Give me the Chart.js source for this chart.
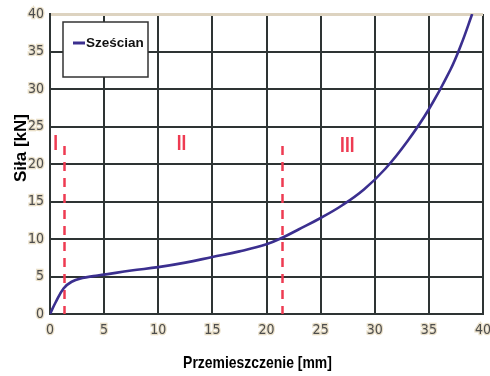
<!DOCTYPE html>
<html>
<head>
<meta charset="utf-8">
<script src="https://cdn.jsdelivr.net/npm/chart.js@4.4.1/dist/chart.umd.min.js"></script>
<style>
html,body{margin:0;padding:0;background:#fff;}
#wrap{width:490px;height:376px;position:relative;}
</style>
</head>
<body>
<div id="wrap"><canvas id="c" width="490" height="376"></canvas></div>
<script>
// ---- data ----
const displacement = [0, 0.5, 1.25, 2, 3, 4, 5, 7.5, 10, 12.5, 15, 17.5, 20, 21.5, 23, 25, 27, 29, 31, 33, 35, 37, 38, 39];
const force        = [0, 1.5, 3.4, 4.3, 4.8, 5.05, 5.25, 5.8, 6.25, 6.85, 7.6, 8.35, 9.3, 10.2, 11.3, 12.8, 14.5, 16.6, 19.4, 23.0, 27.3, 32.6, 36.0, 40.0];
const seriesName = 'Sześcian';
const xTicks = [0, 5, 10, 15, 20, 25, 30, 35, 40];
const yTicks = [0, 5, 10, 15, 20, 25, 30, 35, 40];
const zoneBoundaries = [1.3, 21.4];
const zoneBoundaryTop = 22.4;
const zoneLabels = ['I', 'II', 'III'];
const zoneLabelX = [0.3, 11.7, 26.8];
const zoneLabelY = [21.9, 21.9, 21.6];
const xTitle = 'Przemieszczenie [mm]';
const yTitle = 'Siła [kN]';

const curveColor = '#3b2f8f';
const gridColor = '#2e3434';
const red = '#ee3b52';
const narrow = '"Liberation Sans Narrow", "DejaVu Sans Condensed", "Liberation Sans", Arial, sans-serif';

const points = displacement.map((x, i) => ({x, y: force[i]}));

function condensedText(ctx, text, x, y, sx) {
  ctx.save();
  ctx.translate(x, y);
  ctx.scale(sx, 1);
  ctx.fillText(text, 0, 0);
  ctx.restore();
}

const overlay = {
  id: 'overlay',
  beforeDatasetsDraw(chart) {
    const {ctx, scales: {x, y}} = chart;
    ctx.save();
    ctx.strokeStyle = red;
    ctx.lineWidth = 2.5;
    ctx.setLineDash([9, 7]);
    zoneBoundaries.forEach(b => {
      const px = Math.round(x.getPixelForValue(b)) + 0.5;
      ctx.beginPath();
      ctx.moveTo(px, y.getPixelForValue(zoneBoundaryTop));
      ctx.lineTo(px, y.getPixelForValue(0));
      ctx.stroke();
    });
    ctx.setLineDash([]);
    ctx.fillStyle = red;
    ctx.font = 'bold 22px "Liberation Sans", Arial, sans-serif';
    ctx.textAlign = 'left';
    ctx.textBaseline = 'alphabetic';
    zoneLabels.forEach((t, i) => {
      condensedText(ctx, t, x.getPixelForValue(zoneLabelX[i]), y.getPixelForValue(zoneLabelY[i]), 0.78);
    });
    ctx.restore();
  },
  afterDatasetsDraw(chart) {
    const {ctx, chartArea: a} = chart;
    ctx.save();
    // legend box
    const bx = a.left + 13, by = a.top + 8, bw = 85, bh = 55;
    ctx.fillStyle = '#ffffff';
    ctx.fillRect(bx, by, bw, bh);
    ctx.strokeStyle = '#333';
    ctx.lineWidth = 1.5;
    ctx.strokeRect(bx, by, bw, bh);
    ctx.strokeStyle = curveColor;
    ctx.lineWidth = 3;
    ctx.beginPath();
    ctx.moveTo(bx + 10, by + 21);
    ctx.lineTo(bx + 22, by + 21);
    ctx.stroke();
    ctx.fillStyle = '#111';
    ctx.font = 'bold 13.5px "Liberation Sans", Arial, sans-serif';
    ctx.textAlign = 'left';
    ctx.textBaseline = 'middle';
    ctx.fillText(seriesName, bx + 23, by + 21);
    // axis titles
    ctx.fillStyle = '#000';
    ctx.font = 'bold 17px "Liberation Sans", Arial, sans-serif';
    ctx.textAlign = 'center';
    ctx.textBaseline = 'alphabetic';
    condensedText(ctx, xTitle, 257.5, 368, 0.82);
    ctx.translate(21, 148);
    ctx.rotate(-Math.PI / 2);
    ctx.textBaseline = 'middle';
    ctx.fillText(yTitle, 0, 0);
    ctx.restore();
  }
};

new Chart(document.getElementById('c'), {
  type: 'line',
  data: {
    datasets: [{
      label: seriesName,
      data: points,
      borderColor: curveColor,
      backgroundColor: curveColor,
      borderWidth: 2.6,
      pointRadius: 0,
      tension: 0.4,
      fill: false
    }]
  },
  options: {
    responsive: false,
    animation: false,
    layout: {padding: {top: 14, right: 7, left: 0, bottom: 0}},
    plugins: {legend: {display: false}, tooltip: {enabled: false}, title: {display: false}},
    scales: {
      x: {
        type: 'linear',
        min: 0, max: 40,
        afterFit: s => { s.height = 62; s.paddingLeft = 0; s.paddingRight = 0; },
        afterBuildTicks: s => { s.ticks = xTicks.map(v => ({value: v})); },
        grid: {color: gridColor, lineWidth: 2, drawTicks: false},
        border: {color: gridColor, width: 2},
        ticks: {
          padding: 8,
          color: '#4d4d4d',
          textStrokeColor: '#e9dfc8',
          textStrokeWidth: 2.5,
          font: {family: narrow, size: 14},
          maxRotation: 0
        }
      },
      y: {
        type: 'linear',
        min: 0, max: 40,
        afterFit: s => { s.width = 50; s.paddingTop = 0; s.paddingBottom = 0; },
        afterBuildTicks: s => { s.ticks = yTicks.map(v => ({value: v})); },
        grid: {
          color: c => (c.tick && c.tick.value === 40) ? '#ddd3c0' : gridColor,
          lineWidth: c => (c.tick && c.tick.value === 40) ? 3 : 2,
          drawTicks: false
        },
        border: {color: gridColor, width: 2},
        ticks: {
          padding: 6,
          color: '#4d4d4d',
          textStrokeColor: '#e9dfc8',
          textStrokeWidth: 2.5,
          font: {family: narrow, size: 14}
        }
      }
    }
  },
  plugins: [overlay]
});
</script>
</body>
</html>
